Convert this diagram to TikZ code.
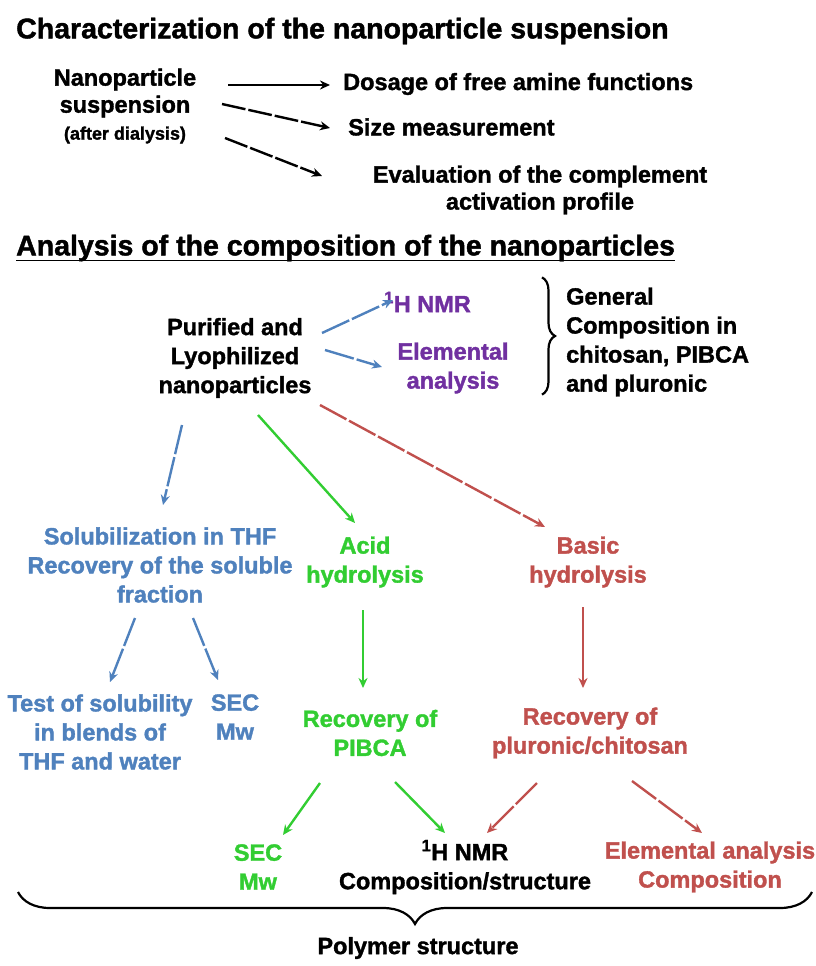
\documentclass[tikz,border=0pt]{standalone}
\usepackage{fontspec}
\newfontfamily\arialc{Liberation Sans}[BoldFeatures={FakeBold=1.5}]
\usetikzlibrary{arrows.meta,decorations.pathreplacing}
\definecolor{blueA}{RGB}{79,129,189}
\definecolor{greenA}{RGB}{50,205,50}
\definecolor{redA}{RGB}{192,80,77}
\definecolor{purpleA}{RGB}{112,48,160}
\tikzset{
  ttl/.style={font=\arialc\bfseries\fontsize{28.5}{32}\selectfont, inner sep=2pt},
  txt/.style={font=\arialc\bfseries\fontsize{23.5}{29}\selectfont, align=center, inner sep=2pt},
  toptxt/.style={font=\arialc\bfseries\fontsize{23.5}{27}\selectfont, align=center, inner sep=2pt},
  arr/.style={-{Stealth[length=10pt,width=9pt]}, line width=2.4pt},
  brk/.style={arr, dash pattern=on 30pt off 3pt},
  brc/.style={decorate, line width=2.2pt},
}
\begin{document}
\begin{tikzpicture}[x=1pt,y=1pt]
  \useasboundingbox (0,0) rectangle (816,-966);
  % characterization of the suspension
  \node[ttl, anchor=west] (title1) at (14,-31) {Characterization of the nanoparticle suspension};
  \node[toptxt] (npsusp) at (125,-106) {Nanoparticle\\suspension\\{\fontsize{18}{20}\selectfont (after dialysis)}};
  \node[toptxt, anchor=west] (dosage) at (341,-84) {Dosage of free amine functions};
  \node[toptxt, anchor=west] (size) at (346,-127) {Size measurement};
  \node[toptxt] (evalc) at (540,-190) {Evaluation of the complement\\activation profile};
  \draw[arr] ([shift={(103,21)}]npsusp.center) -- ([shift={(-11,-1)}]dosage.west);
  \draw[brk, dash pattern=on 24pt off 3pt] ([shift={(97,2)}]npsusp.center) -- ([shift={(-16,-1)}]size.west);
  \draw[brk, dash pattern=on 24pt off 3pt] ([shift={(100,-32)}]npsusp.center) -- ([shift={(-218,14)}]evalc.center);
  % analysis of the composition
  \node[ttl, anchor=west] (title2) at (14,-248) {Analysis of the composition of the nanoparticles};
  \draw[line width=1.8pt] ([shift={(2,3)}]title2.south west) -- ([shift={(-2,3)}]title2.south east);
  \node[txt] (purified) at (235,-358) {Purified and\\Lyophilized\\nanoparticles};
  \node[txt, text=purpleA, anchor=west] (hnmr) at (382,-302) {\textsuperscript{1}H NMR};
  \node[txt, text=purpleA] (elem) at (453,-368) {Elemental\\analysis};
  \node[txt, anchor=west, align=left] (general) at (564,-342) {General\\Composition in\\chitosan, PIBCA\\and pluronic};
  \draw[brc, decoration={brace, amplitude=13pt}] ([shift={(-22,8)}]general.north west) -- ([shift={(-22,4)}]general.south west);
  \draw[brk, blueA] ([shift={(87,25)}]purified.center) -- ([shift={(11,2)}]hnmr.west);
  \draw[brk, blueA] ([shift={(90,8)}]purified.center) -- ([shift={(-71,1)}]elem.center);
  % three routes
  \node[txt, text=blueA] (solub) at (160,-565) {Solubilization in THF\\Recovery of the soluble\\fraction};
  \node[txt, text=greenA] (acid) at (365,-562) {Acid\\hydrolysis};
  \node[txt, text=redA] (basic) at (588,-562) {Basic\\hydrolysis};
  \draw[brk, blueA] ([shift={(-53,-67)}]purified.center) -- ([shift={(3,60)}]solub.center);
  \draw[arr, greenA] ([shift={(23,-57)}]purified.center) -- ([shift={(-10,39)}]acid.center);
  \draw[brk, redA] ([shift={(85,-47)}]purified.center) -- ([shift={(-43,35)}]basic.center);
  % recovered fractions
  \node[txt, text=blueA] (testsol) at (100,-732) {Test of solubility\\in blends of\\THF and water};
  \node[txt, text=blueA] (secblue) at (235,-717) {SEC\\Mw};
  \node[txt, text=greenA] (recpibca) at (370,-733) {Recovery of\\PIBCA};
  \node[txt, text=redA] (recplur) at (590,-733) {Recovery of\\pluronic/chitosan};
  \draw[brk, blueA] ([shift={(-25,-53)}]solub.center) -- ([shift={(10,50)}]testsol.center);
  \draw[brk, blueA] ([shift={(33,-53)}]solub.center) -- ([shift={(-17,37)}]secblue.center);
  \draw[arr, greenA] ([shift={(-2,-48)}]acid.center) -- ([shift={(-7,45)}]recpibca.center);
  \draw[arr, redA] ([shift={(-5,-45)}]basic.center) -- ([shift={(-7,45)}]recplur.center);
  % final analyses
  \node[txt, text=greenA] (secgreen) at (258,-867) {SEC\\Mw};
  \node[txt] (hnmrb) at (465,-867) {\textsuperscript{1}H NMR\\Composition/structure};
  \node[txt, text=redA] (elemb) at (710,-867) {Elemental analysis\\Composition};
  \draw[arr, greenA] ([shift={(-50,-50)}]recpibca.center) -- ([shift={(25,32)}]secgreen.center);
  \draw[arr, greenA] ([shift={(25,-49)}]recpibca.center) -- ([shift={(-20,34)}]hnmrb.center);
  \draw[brk, redA] ([shift={(-53,-50)}]recplur.center) -- ([shift={(22,34)}]hnmrb.center);
  \draw[brk, redA] ([shift={(42,-48)}]recplur.center) -- ([shift={(-8,34)}]elemb.center);
  % polymer structure
  \coordinate (brL) at (18,-892);
  \coordinate (brR) at (812,-892);
  \draw[brc, decoration={brace, mirror, amplitude=32pt}] (brL) -- (brR);
  \node[txt] (polymer) at (418,-948) {Polymer structure};
\end{tikzpicture}
\end{document}
